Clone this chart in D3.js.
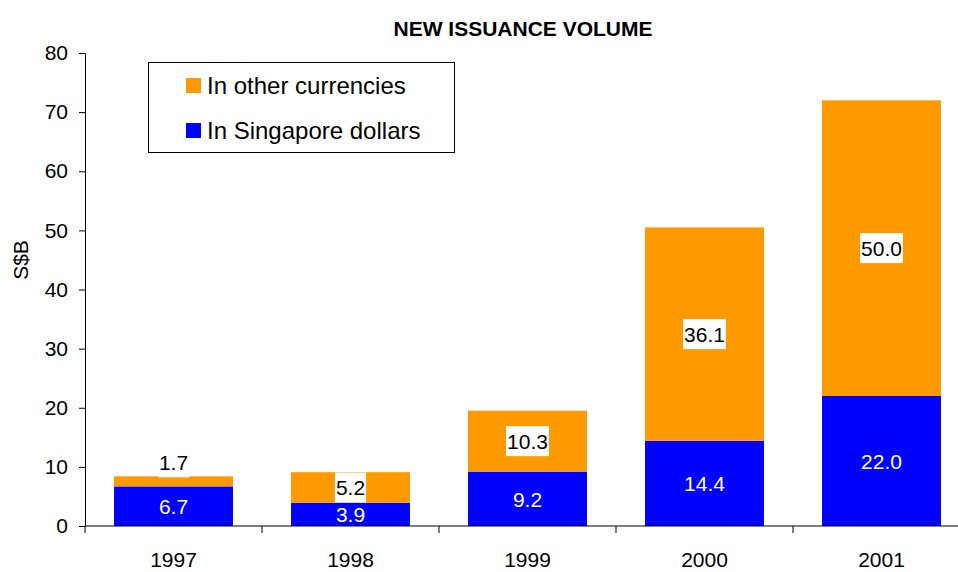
<!DOCTYPE html>
<html>
<head>
<meta charset="utf-8">
<script src="https://cdn.jsdelivr.net/npm/d3@7"></script>
<style>
  body { margin: 0; background: #fff; }
  svg { display: block; font-family: Arial, "Liberation Sans", sans-serif; }
</style>
</head>
<body>
<svg width="958" height="572"></svg>
<script>
// Data
var years = ["1997", "1998", "1999", "2000", "2001"];
var sgdValues = [6.7, 3.9, 9.2, 14.4, 22.0];
var otherValues = [1.7, 5.2, 10.3, 36.1, 50.0];
var yTicks = [0, 10, 20, 30, 40, 50, 60, 70, 80];
var seriesNames = ["In other currencies", "In Singapore dollars"];
var colors = { other: "#ff9900", sgd: "#0000ff" };

var svg = d3.select("svg");

var plotLeft = 85, plotRight = 970, plotTop = 53, plotBottom = 526;

var x = d3.scaleBand()
    .domain(years)
    .range([plotLeft, plotRight])
    .paddingInner(0.328)
    .paddingOuter(0.164);

var y = d3.scaleLinear()
    .domain([0, 80])
    .range([plotBottom, plotTop]);

// stacked rows
var rows = years.map(function (yr, i) {
    return { year: yr, sgd: sgdValues[i], other: otherValues[i] };
});
var series = d3.stack().keys(["sgd", "other"])(rows);

// Title
svg.append("text")
    .attr("x", 523)
    .attr("y", 36)
    .attr("text-anchor", "middle")
    .attr("font-size", 21)
    .attr("font-weight", "bold")
    .text("NEW ISSUANCE VOLUME");

// bars
series.forEach(function (s) {
    svg.append("g")
        .selectAll("rect")
        .data(s)
        .enter()
        .append("rect")
        .attr("x", function (d) { return x(d.data.year); })
        .attr("width", x.bandwidth())
        .attr("y", function (d) { return y(d[1]); })
        .attr("height", function (d) { return y(d[0]) - y(d[1]); })
        .attr("fill", colors[s.key]);
});

// y axis
var yAxis = svg.append("g")
    .attr("transform", "translate(" + plotLeft + ",0)")
    .call(d3.axisLeft(y).tickValues(yTicks).tickSize(6).tickPadding(11));
yAxis.select(".domain").attr("stroke", "#000");
yAxis.selectAll(".tick line").attr("stroke", "#000");
yAxis.selectAll("text")
    .attr("font-size", 21)
    .attr("font-family", "Arial, 'Liberation Sans', sans-serif")
    .attr("fill", "#000");

svg.append("text")
    .attr("transform", "translate(28,260) rotate(-90)")
    .attr("text-anchor", "middle")
    .attr("font-size", 21)
    .text("S$B");

// x axis
svg.append("line")
    .attr("x1", plotLeft).attr("x2", plotRight)
    .attr("y1", plotBottom).attr("y2", plotBottom)
    .attr("stroke", "#000");

var half = (x.step() - x.bandwidth()) / 2;
var bounds = years.map(function (d) { return x(d) - half; });
bounds.push(x(years[years.length - 1]) + x.bandwidth() + half);
svg.append("g")
    .selectAll("line")
    .data(bounds)
    .enter()
    .append("line")
    .attr("x1", function (d) { return d; })
    .attr("x2", function (d) { return d; })
    .attr("y1", plotBottom)
    .attr("y2", plotBottom + 7)
    .attr("stroke", "#000");

svg.append("g")
    .selectAll("text")
    .data(years)
    .enter()
    .append("text")
    .attr("x", function (d) { return x(d) + x.bandwidth() / 2; })
    .attr("y", 567)
    .attr("text-anchor", "middle")
    .attr("font-size", 21)
    .text(function (d) { return d; });

// labels: Singapore dollars (white text)
svg.append("g")
    .selectAll("text")
    .data(series[0])
    .enter()
    .append("text")
    .attr("x", function (d) { return x(d.data.year) + x.bandwidth() / 2; })
    .attr("y", function (d) { return (y(d[0]) + y(d[1])) / 2; })
    .attr("dy", "0.38em")
    .attr("text-anchor", "middle")
    .attr("font-size", 21)
    .attr("fill", "#fff")
    .text(function (d) { return d.data.sgd.toFixed(1); });

// labels: other currencies (black on white box)
var boxH = 30;
var oLabels = svg.append("g")
    .selectAll("g")
    .data(series[1])
    .enter()
    .append("g")
    .attr("transform", function (d) {
        var cx = x(d.data.year) + x.bandwidth() / 2;
        var segH = y(d[0]) - y(d[1]);
        var cy = (y(d[0]) + y(d[1])) / 2;
        if (segH < boxH) cy = y(d[1]) + 1 - boxH / 2;
        return "translate(" + cx + "," + cy + ")";
    });
oLabels.append("rect").attr("fill", "#fff");
oLabels.append("text")
    .attr("text-anchor", "middle")
    .attr("dy", "0.36em")
    .attr("font-size", 21)
    .attr("fill", "#000")
    .text(function (d) { return d.data.other.toFixed(1); });
oLabels.each(function () {
    var g = d3.select(this);
    var w = g.select("text").node().getBBox().width + 2;
    g.select("rect")
        .attr("x", -w / 2).attr("y", -boxH / 2)
        .attr("width", w).attr("height", boxH);
});

// legend
var legend = svg.append("g");
legend.append("rect")
    .attr("x", 148.5).attr("y", 62.5)
    .attr("width", 306).attr("height", 90)
    .attr("fill", "#fff")
    .attr("stroke", "#000");
var legColors = [colors.other, colors.sgd];
seriesNames.forEach(function (name, i) {
    legend.append("rect")
        .attr("x", 186).attr("y", 78 + i * 45)
        .attr("width", 15).attr("height", 15)
        .attr("fill", legColors[i]);
    legend.append("text")
        .attr("x", 207)
        .attr("y", 85.5 + i * 45)
        .attr("dy", "0.36em")
        .attr("font-size", 24)
        .text(name);
});
</script>
</body>
</html>
